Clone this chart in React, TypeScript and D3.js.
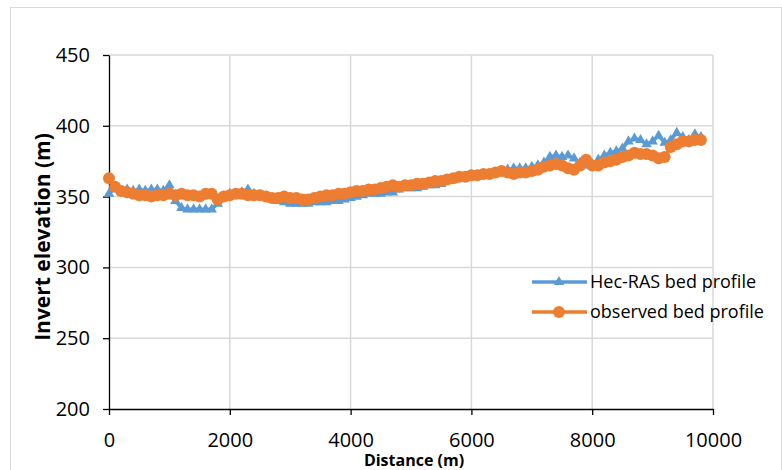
import React, { useEffect, useRef } from 'react';
import * as d3 from 'd3';

// distance along the reach (m)
const distances: number[] = [
    0, 100, 200, 300, 400, 500, 600, 700, 800, 900,
    1000, 1100, 1200, 1300, 1400, 1500, 1600, 1700, 1800, 1900,
    2000, 2100, 2200, 2300, 2400, 2500, 2600, 2700, 2800, 2900,
    3000, 3100, 3200, 3300, 3400, 3500, 3600, 3700, 3800, 3900,
    4000, 4100, 4200, 4300, 4400, 4500, 4600, 4700, 4800, 4900,
    5000, 5100, 5200, 5300, 5400, 5500, 5600, 5700, 5800, 5900,
    6000, 6100, 6200, 6300, 6400, 6500, 6600, 6700, 6800, 6900,
    7000, 7100, 7200, 7300, 7400, 7500, 7600, 7700, 7800, 7900,
    8000, 8100, 8200, 8300, 8400, 8500, 8600, 8700, 8800, 8900,
    9000, 9100, 9200, 9300, 9400, 9500, 9600, 9700, 9800
];

const hecRas: number[] = [
    352, 356, 354, 355, 354, 355, 354, 355, 355, 354,
    358, 347, 342, 341, 341, 341, 341, 341, 345, 350,
    352, 352, 353, 355, 352, 351, 350, 348, 347, 346,
    345, 345, 345, 345, 346, 346, 346, 347, 347, 348,
    349, 350, 351, 352, 352, 352, 353, 353, 355, 356,
    356, 356, 357, 358, 358, 359, 361, 362, 363, 364,
    365, 365, 366, 366, 367, 368, 369, 370, 370, 370,
    371, 372, 374, 378, 379, 378, 379, 377, 374, 372,
    373, 376, 379, 381, 382, 384, 389, 391, 390, 387,
    389, 393, 388, 390, 395, 392, 390, 394, 392
];

const observed: number[] = [
    363, 357, 354, 353, 352, 351, 351, 350, 351, 351,
    352, 351, 352, 351, 351, 350, 352, 352, 348, 350,
    351, 352, 352, 351, 351, 351, 350, 349, 349, 350,
    349, 349, 348, 348, 349, 350, 351, 351, 352, 352,
    353, 354, 354, 355, 355, 356, 357, 358, 357, 358,
    358, 359, 359, 360, 361, 361, 362, 363, 364, 364,
    365, 365, 366, 366, 367, 368, 367, 366, 367, 367,
    368, 369, 371, 372, 373, 372, 370, 369, 372, 376,
    372, 372, 374, 375, 376, 378, 379, 381, 380, 380,
    379, 377, 378, 385, 387, 389, 389, 390, 390
];

const xTicks: number[] = [0, 2000, 4000, 6000, 8000, 10000];
const yTicks: number[] = [200, 250, 300, 350, 400, 450];

const seriesNames: string[] = ['Hec-RAS bed profile', 'observed bed profile'];

const App: React.FC = () => {
    const svgRef = useRef<SVGSVGElement>(null);

    useEffect(() => {
        if (!svgRef.current) return;
        const width = 782;
        const height = 470;
        const svg = d3.select(svgRef.current);
        svg.selectAll('*').remove();

        const font = '"Open Sans", "Noto Sans", sans-serif';
        const blue = '#5B9BD5';
        const orange = '#ED7D31';

        // chart frame
        svg.append('rect')
            .attr('x', 10.5).attr('y', 7.5)
            .attr('width', width - 11).attr('height', height)
            .attr('fill', '#fff')
            .attr('stroke', '#d9d9d9');

        const left = 109, right = 713, top = 55, bottom = 409;

        const x = d3.scaleLinear().domain([0, 10000]).range([left, right]);
        const y = d3.scaleLinear().domain([200, 450]).range([bottom, top]);

        // grid
        svg.append('g').selectAll('line.v')
            .data(xTicks.slice(1))
            .enter().append('line')
            .attr('x1', d => x(d)).attr('x2', d => x(d))
            .attr('y1', top).attr('y2', bottom)
            .attr('stroke', '#d9d9d9').attr('stroke-width', 1.5);
        svg.append('g').selectAll('line.h')
            .data(yTicks.slice(1))
            .enter().append('line')
            .attr('x1', left).attr('x2', right)
            .attr('y1', d => y(d)).attr('y2', d => y(d))
            .attr('stroke', '#d9d9d9').attr('stroke-width', 1.5);

        // axes
        const xAxis = svg.append('g')
            .attr('transform', `translate(0, ${bottom})`)
            .call(d3.axisBottom(x).tickValues(xTicks).tickSizeInner(6).tickSizeOuter(0).tickPadding(18).tickFormat(d => String(d)));
        const yAxis = svg.append('g')
            .attr('transform', `translate(${left}, 0)`)
            .call(d3.axisLeft(y).tickValues(yTicks).tickSizeInner(6).tickSizeOuter(0).tickPadding(13).tickFormat(d => String(d)));
        [xAxis, yAxis].forEach(a => {
            a.selectAll('.domain, .tick line').attr('stroke', '#000').attr('stroke-width', 1.3);
            a.selectAll('text')
                .attr('font-family', font)
                .attr('font-size', 20)
                .attr('fill', '#000');
        });

        // axis titles
        svg.append('text')
            .attr('x', 414).attr('y', 466)
            .attr('text-anchor', 'middle')
            .attr('font-family', font).attr('font-size', 16).attr('font-weight', 'bold')
            .text('Distance (m)');
        svg.append('text')
            .attr('transform', `translate(50, 237) rotate(-90)`)
            .attr('text-anchor', 'middle')
            .attr('font-family', font).attr('font-size', 21).attr('font-weight', 'bold')
            .text('Invert elevation (m)');

        const tri = d3.symbol().type(d3.symbolTriangle).size(48);

        const line = d3.line<number>()
            .x((_, i) => x(distances[i]));

        // Hec-RAS series
        svg.append('path')
            .datum(hecRas)
            .attr('d', line.y(d => y(d)))
            .attr('fill', 'none').attr('stroke', blue).attr('stroke-width', 3.5);
        svg.append('g').selectAll('path')
            .data(hecRas)
            .enter().append('path')
            .attr('d', tri)
            .attr('transform', (d, i) => `translate(${x(distances[i])}, ${y(d)})`)
            .attr('fill', blue);

        // observed series
        svg.append('path')
            .datum(observed)
            .attr('d', line.y(d => y(d)))
            .attr('fill', 'none').attr('stroke', orange).attr('stroke-width', 3.5);
        svg.append('g').selectAll('circle')
            .data(observed)
            .enter().append('circle')
            .attr('cx', (_, i) => x(distances[i]))
            .attr('cy', d => y(d))
            .attr('r', 6)
            .attr('fill', orange);

        // legend
        const legend = svg.append('g');
        seriesNames.forEach((name, i) => {
            const ly = 282 + i * 30;
            const color = i === 0 ? blue : orange;
            legend.append('line')
                .attr('x1', 532).attr('x2', 587)
                .attr('y1', ly).attr('y2', ly)
                .attr('stroke', color).attr('stroke-width', 3.5);
            if (i === 0) {
                legend.append('path').attr('d', tri)
                    .attr('transform', `translate(559, ${ly})`)
                    .attr('fill', color);
            } else {
                legend.append('circle')
                    .attr('cx', 559).attr('cy', ly).attr('r', 6)
                    .attr('fill', color);
            }
            legend.append('text')
                .attr('x', 590).attr('y', ly + 6)
                .attr('font-family', font).attr('font-size', 18)
                .attr('fill', '#000')
                .text(name);
        });
    }, []);

    return (
        <svg ref={svgRef} width={782} height={470}
            style={{ position: 'absolute', left: 0, top: 0, display: 'block' }} />
    );
};

export default App;
